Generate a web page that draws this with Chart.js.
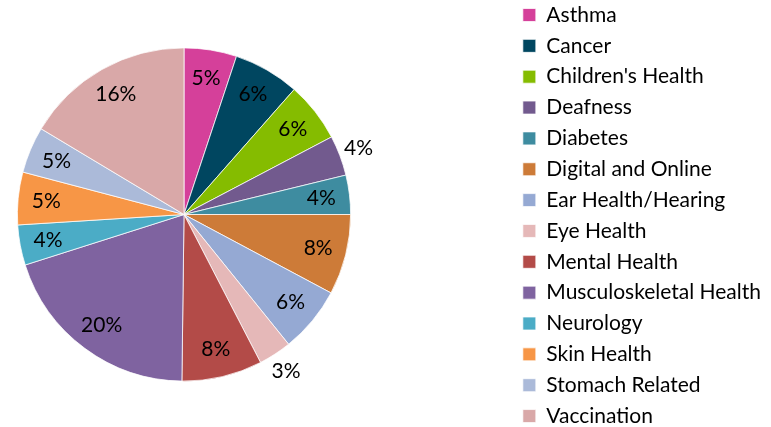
<!DOCTYPE html>
<html>
<head>
<meta charset="utf-8">
<script src="https://cdn.jsdelivr.net/npm/chart.js@4/dist/chart.umd.min.js"></script>
<style>
  html, body { margin: 0; padding: 0; background: #fff; }
  #wrap { width: 771px; height: 427px; position: relative; }
</style>
</head>
<body>
<div id="wrap"><canvas id="myChart"></canvas></div>
<script>
  // chart data
  var categories = ['Asthma', 'Cancer', "Children's Health", 'Deafness', 'Diabetes', 'Digital and Online',
    'Ear Health/Hearing', 'Eye Health', 'Mental Health', 'Musculoskeletal Health', 'Neurology',
    'Skin Health', 'Stomach Related', 'Vaccination'];
  var shares = [5.1, 6.4, 5.8, 3.9, 3.8, 7.8, 6.4, 3.2, 7.8, 19.9, 3.9, 5.1, 4.5, 16.4];
  var colours = ['#D5409A', '#004660', '#85BC00', '#725A8E', '#3E8CA0', '#CD7B38', '#95A9D3',
    '#E5B8B8', '#B34B48', '#7F63A0', '#4BACC6', '#F79646', '#ABBAD9', '#D9A8A8'];
  // slices whose percentage sits outside the pie
  var outsideLabels = ['Deafness', 'Eye Health'];

  var FONT = 'Lato, "Open Sans", sans-serif';

  /* keep the pie on the left, away from the legend */
  var pieBox = {
    id: 'pieBox',
    afterLayout: function (chart) {
      var a = chart.chartArea;
      a.left = 17; a.right = 351;
      a.top = 47; a.bottom = 382;
      a.width = a.right - a.left;
      a.height = a.bottom - a.top;
    }
  };

  /* percentage labels on the slices */
  var sliceLabels = {
    id: 'sliceLabels',
    afterDatasetsDraw: function (chart) {
      var ctx = chart.ctx;
      var meta = chart.getDatasetMeta(0);
      var values = chart.data.datasets[0].data;
      var total = values.reduce(function (a, b) { return a + b; }, 0);
      ctx.save();
      ctx.font = '21px ' + FONT;
      ctx.fillStyle = '#000';
      ctx.textAlign = 'center';
      ctx.textBaseline = 'middle';
      meta.data.forEach(function (arc, i) {
        var p = arc.getProps(['x', 'y', 'startAngle', 'endAngle', 'outerRadius'], true);
        var mid = (p.startAngle + p.endAngle) / 2;
        var out = outsideLabels.indexOf(chart.data.labels[i]) >= 0;
        var r = p.outerRadius * (out ? 1.12 : 0.83);
        var txt = Math.round(values[i] / total * 100) + '%';
        ctx.fillText(txt, p.x + Math.cos(mid) * r, p.y + Math.sin(mid) * r);
      });
      ctx.restore();
    }
  };

  var ctx = document.getElementById('myChart').getContext('2d');
  var chart = new Chart(ctx, {
    type: 'pie',
    data: {
      labels: categories,
      datasets: [{
        data: shares,
        backgroundColor: colours,
        borderColor: '#ffffff',
        borderWidth: 0.75
      }]
    },
    options: {
      responsive: true,
      maintainAspectRatio: false,
      animation: false,
      layout: {
        padding: { left: 0, right: 0, top: -5.35, bottom: -11 }
      },
      plugins: {
        tooltip: { enabled: false },
        legend: {
          position: 'right',
          align: 'start',
          labels: {
            boxWidth: 13,
            boxHeight: 13,
            padding: 9.85,
            color: '#000',
            font: { family: FONT, size: 21 }
          }
        }
      }
    },
    plugins: [pieBox, sliceLabels]
  });
</script>
</body>
</html>
